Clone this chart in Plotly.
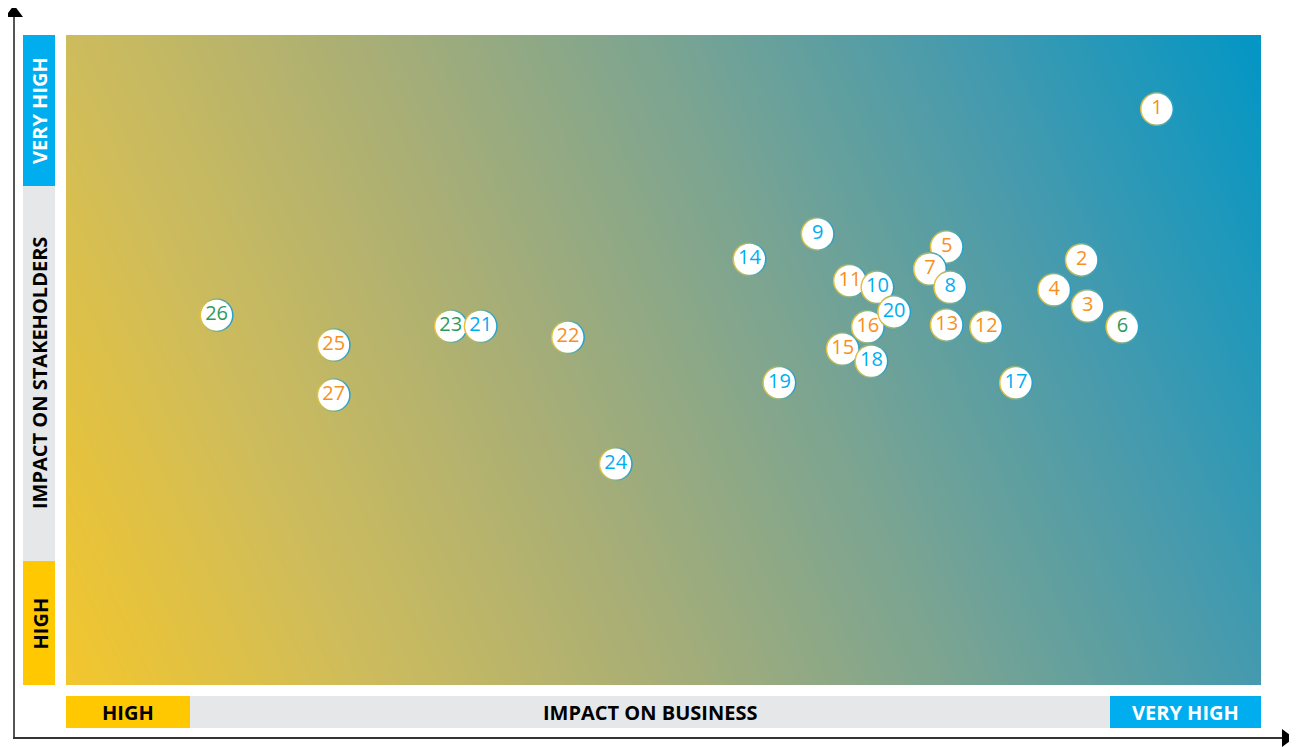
import plotly.graph_objects as go

# ---- data (impact on business = x, impact on stakeholders = y, scale 0-10) ----
labels = [1, 2, 3, 4, 5, 6, 7, 8, 9, 11, 10, 12, 13, 14, 15, 16, 17, 18, 19, 20, 23, 21, 22, 24, 25, 26, 27]
business = [9.13, 8.50, 8.55, 8.27, 7.37, 8.84, 7.23, 7.40, 6.29, 6.56, 6.79, 7.70, 7.37, 5.72, 6.50, 6.71,
            7.95, 6.74, 5.97, 6.93, 3.22, 3.47, 4.20, 4.60, 2.24, 1.26, 2.24]
stakeholders = [8.86, 6.54, 5.83, 6.08, 6.74, 5.51, 6.40, 6.12, 6.94, 6.22, 6.12, 5.51, 5.54, 6.55, 5.17, 5.51,
                4.65, 4.98, 4.65, 5.74, 5.52, 5.52, 5.35, 3.40, 5.23, 5.69, 4.46]
groups = ["o", "o", "o", "o", "o", "g", "o", "b", "b", "o", "b", "o", "o", "b", "o", "o",
          "b", "b", "b", "b", "g", "b", "o", "b", "o", "g", "o"]

group_colors = {"o": "#F7901E", "b": "#00AEEF", "g": "#2E9A5A"}

y_bands = ["HIGH", "IMPACT ON STAKEHOLDERS", "VERY HIGH"]
x_bands = ["HIGH", "IMPACT ON BUSINESS", "VERY HIGH"]

# ---- layout geometry (page pixels; page body has an 8px margin) ----
OFF = 8
W, H = 1297 - OFF, 747 - OFF
PL, PR, PT, PB = 66, 1261, 35, 685


def px(xp):
    return (xp - PL) / (PR - PL)


def py(yp):
    return (PB - yp) / (PB - PT)


fig = go.Figure()

# gradient background
fig.add_trace(go.Heatmap(
    x=[0, 10], y=[0, 10],
    z=[[0.0, 0.8], [0.2, 1.0]],
    zmin=0, zmax=1,
    zsmooth="best",
    colorscale=[[0.0, "rgb(243,198,44)"], [0.2, "rgb(206,188,92)"], [0.4, "rgb(168,174,118)"],
                [0.6, "rgb(122,164,146)"], [0.8, "rgb(68,154,174)"], [1.0, "rgb(2,150,197)"]],
    showscale=False, hoverinfo="skip",
))

# markers: interleave outline circle and white circle per point to keep stacking order
mx, my, msize, mcolor, gtype, gcolor = [], [], [], [], [], []
for xv, yv in zip(business, stakeholders):
    mx += [xv, xv]
    my += [yv, yv]
    msize += [34, 31]
    mcolor += ["#E9C23A", "white"]
    gtype += ["horizontal", "none"]
    gcolor += ["#1F9FD2", "white"]

fig.add_trace(go.Scatter(
    x=mx, y=my, mode="markers",
    marker=dict(size=msize, color=mcolor, opacity=1,
                gradient=dict(type=gtype, color=gcolor), line=dict(width=0)),
    hoverinfo="skip", showlegend=False,
))

fig.add_trace(go.Scatter(
    x=business, y=stakeholders, mode="text",
    text=[str(v) for v in labels],
    textposition="middle center",
    textfont=dict(family="Open Sans", size=20, color=[group_colors[g] for g in groups]),
    hoverinfo="skip", showlegend=False,
))

shapes = []
ann = []
# left bar
left_segments = [(561, 685, "#FFC800"), (186, 561, "#E6E7E8"), (35, 186, "#00AEEF")]
for (t, b, c), lab in zip(left_segments, y_bands):
    shapes.append(dict(type="rect", xref="paper", yref="paper", x0=px(23), x1=px(55), y0=py(b), y1=py(t),
                       fillcolor=c, line=dict(width=0), layer="below"))
    ann.append(dict(xref="paper", yref="paper", x=px(39.5), y=py((t + b) / 2), text=lab, showarrow=False,
                    textangle=-90, xanchor="center", yanchor="middle",
                    font=dict(family="Open Sans", size=20, color="white" if c == "#00AEEF" else "black",
                              weight="bold")))
# bottom bar
bottom_segments = [(66, 190, "#FFC800"), (190, 1110, "#E6E7E8"), (1110, 1261, "#00AEEF")]
for (l, r, c), lab in zip(bottom_segments, x_bands):
    shapes.append(dict(type="rect", xref="paper", yref="paper", x0=px(l), x1=px(r), y0=py(728), y1=py(696),
                       fillcolor=c, line=dict(width=0), layer="below"))
    ann.append(dict(xref="paper", yref="paper", x=px((l + r) / 2), y=py(712.5), text=lab, showarrow=False,
                    xanchor="center", yanchor="middle",
                    font=dict(family="Open Sans", size=20, color="white" if c == "#00AEEF" else "black",
                              weight="bold")))

# axes arrows
shapes.append(dict(type="line", xref="paper", yref="paper", x0=px(14), x1=px(14), y0=py(739), y1=py(16),
                   line=dict(color="#555555", width=2)))
shapes.append(dict(type="line", xref="paper", yref="paper", x0=px(13), x1=px(1283), y0=py(738), y1=py(738),
                   line=dict(color="#333333", width=2)))
shapes.append(dict(type="path", xref="paper", yref="paper",
                   path=f"M {px(14)} {py(5)} L {px(5)} {py(17)} L {px(23)} {py(17)} Z",
                   fillcolor="black", line=dict(width=0)))
shapes.append(dict(type="path", xref="paper", yref="paper",
                   path=f"M {px(1294)} {py(738)} L {px(1282)} {py(729)} L {px(1282)} {py(747)} Z",
                   fillcolor="black", line=dict(width=0)))

fig.update_layout(
    width=W, height=H,
    margin=dict(l=PL - OFF, r=W - (PR - OFF), t=PT - OFF, b=H - (PB - OFF)),
    paper_bgcolor="white", plot_bgcolor="white",
    xaxis=dict(range=[0, 10], visible=False, fixedrange=True),
    yaxis=dict(range=[0, 10], visible=False, fixedrange=True),
    shapes=shapes, annotations=ann, showlegend=False,
)

fig.write_html("out.html", config={"displayModeBar": False})
